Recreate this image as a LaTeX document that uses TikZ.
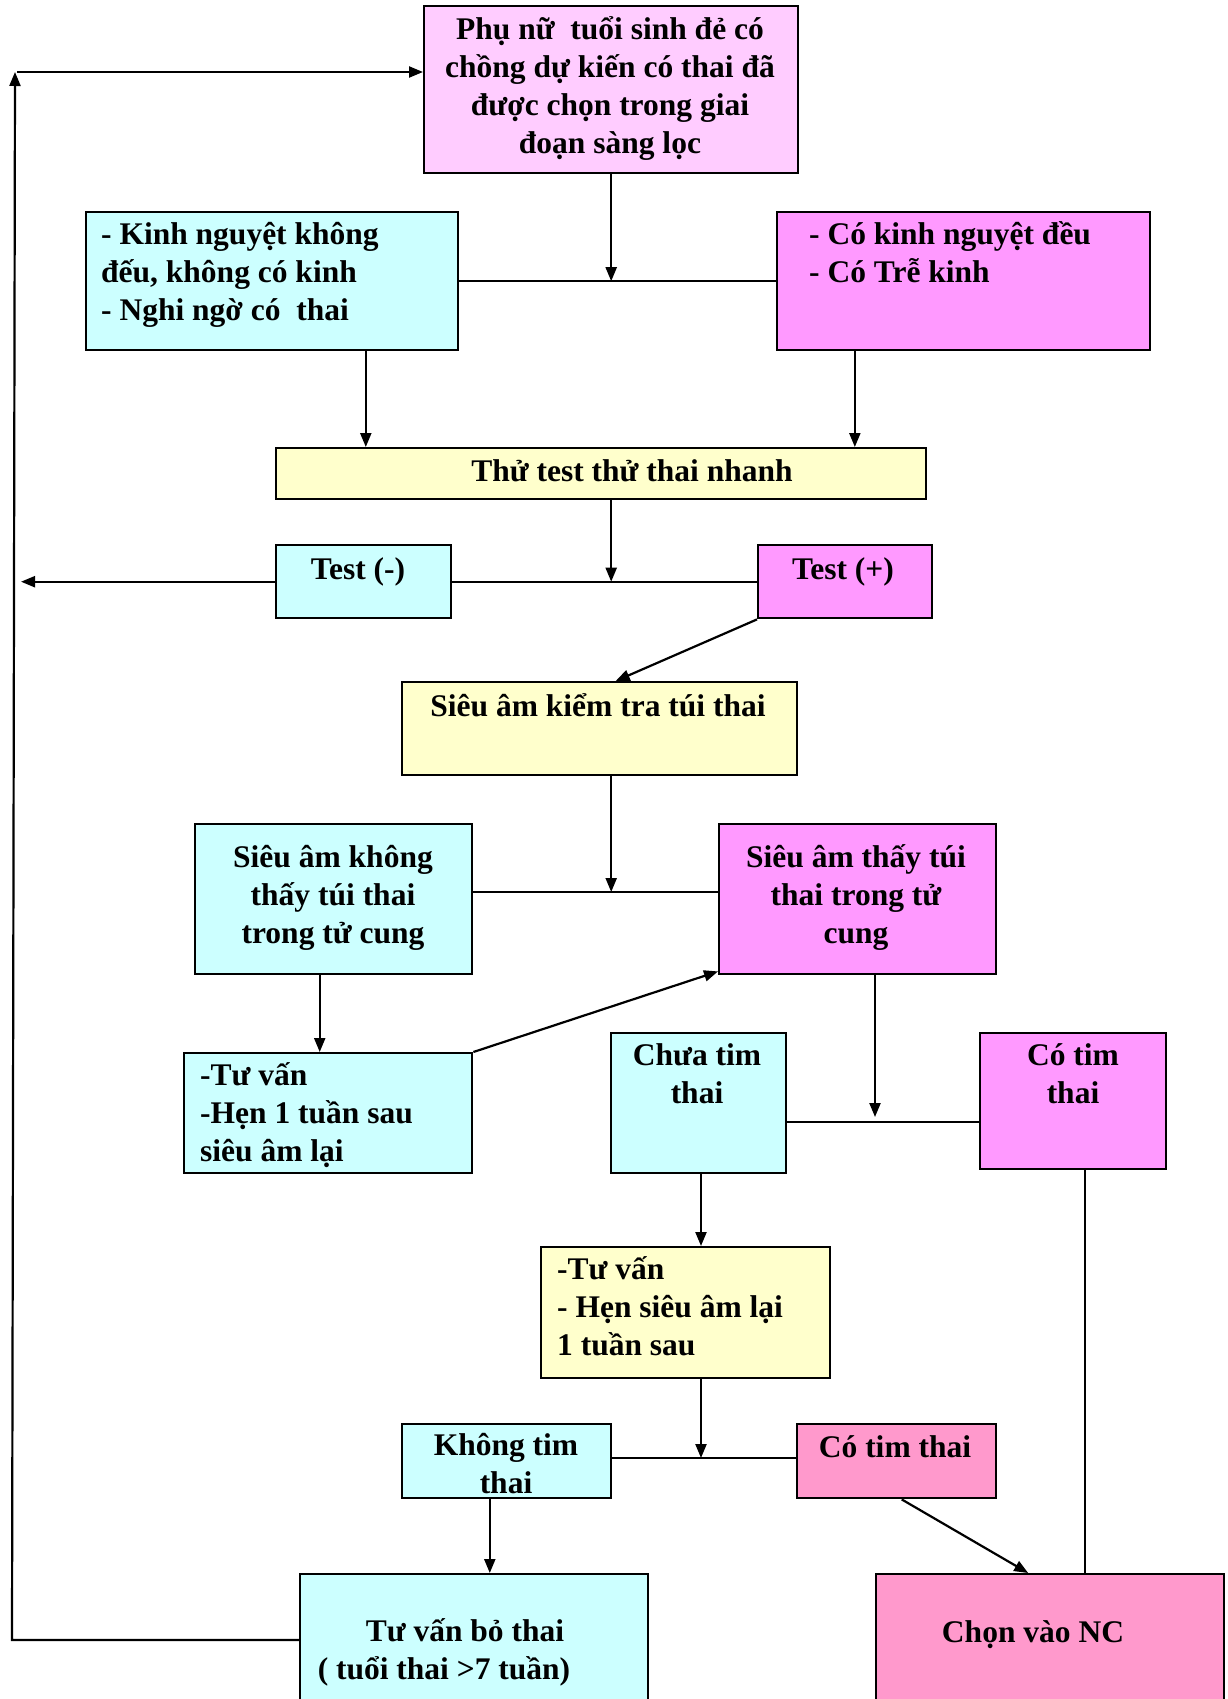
\documentclass[tikz,border=0pt]{standalone}
\usepackage{fontspec}
\setmainfont{Liberation Serif}
\usetikzlibrary{arrows.meta,calc}

\definecolor{hongnhat}{HTML}{FFCCFF}
\definecolor{xanhnhat}{HTML}{CCFFFF}
\definecolor{tim}{HTML}{FF99FF}
\definecolor{vang}{HTML}{FFFFCC}
\definecolor{hong}{HTML}{FF99CC}

\tikzset{
  box/.style={draw, line width=2.4pt, inner sep=0pt, anchor=north west},
  txt/.style={font=\bfseries\fontsize{31.5}{38}\selectfont, inner sep=0pt},
  line/.style={line width=2.2pt},
  arr/.style={line width=2.2pt, -{Triangle[length=14pt,width=11pt]}}
}

\begin{document}
\begin{tikzpicture}[x=1pt,y=-1pt]
  \useasboundingbox (0,0) rectangle (1228,1699);

  % boxes
  \node[box, fill=hongnhat, minimum width=374, minimum height=167] (phu) at (423,5) {};
  \node[box, fill=xanhnhat, minimum width=372, minimum height=138] (kinh) at (85,211) {};
  \node[box, fill=tim, minimum width=373, minimum height=138] (cokinh) at (776,211) {};
  \node[box, fill=vang, minimum width=650, minimum height=51] (nhanh) at (275,447) {};
  \node[box, fill=xanhnhat, minimum width=175, minimum height=73] (testam) at (275,544) {};
  \node[box, fill=tim, minimum width=174, minimum height=73] (testduong) at (757,544) {};
  \node[box, fill=vang, minimum width=395, minimum height=93] (sieuam) at (401,681) {};
  \node[box, fill=xanhnhat, minimum width=277, minimum height=150] (khongtui) at (194,823) {};
  \node[box, fill=tim, minimum width=277, minimum height=150] (thaytui) at (718,823) {};
  \node[box, fill=xanhnhat, minimum width=288, minimum height=120] (tuvanmot) at (183,1052) {};
  \node[box, fill=xanhnhat, minimum width=175, minimum height=140] (chuatim) at (610,1032) {};
  \node[box, fill=tim, minimum width=186, minimum height=136] (cotim) at (979,1032) {};
  \node[box, fill=vang, minimum width=289, minimum height=131] (tuvanhai) at (540,1246) {};
  \node[box, fill=xanhnhat, minimum width=209, minimum height=74] (khongtim) at (401,1423) {};
  \node[box, fill=hong, minimum width=199, minimum height=74] (cotimhai) at (796,1423) {};
  \node[box, fill=xanhnhat, minimum width=348, minimum height=130] (tuvanbo) at (299,1573) {};
  \node[box, fill=hong, minimum width=348, minimum height=130] (chonnc) at (875,1573) {};

  % texts (base = last line)
  \node[txt, align=center, anchor=base] (phuT) at (610,154)
    {Phụ nữ\ \ tuổi sinh đẻ có\\chồng dự kiến có thai đã\\được chọn trong giai\\đoạn sàng lọc};
  \node[txt, align=left, anchor=base west] (kinhT) at (101,320)
    {- Kinh nguyệt không\\đếu, không có kinh\\- Nghi ngờ có\ \ thai};
  \node[txt, align=left, anchor=base west] (cokinhT) at (809,282)
    {- Có kinh nguyệt đều\\- Có Trễ kinh};
  \node[txt, anchor=base] (nhanhT) at (632,481) {Thử test thử thai nhanh};
  \node[txt, anchor=base] (testamT) at (358,579) {Test (-)};
  \node[txt, anchor=base] (testduongT) at (843,579) {Test (+)};
  \node[txt, anchor=base] (sieuamT) at (598,716) {Siêu âm kiểm tra túi thai};
  \node[txt, align=center, anchor=base] (khongtuiT) at (333,943)
    {Siêu âm không\\thấy túi thai\\trong tử cung};
  \node[txt, align=center, anchor=base] (thaytuiT) at (856,943)
    {Siêu âm thấy túi\\thai trong tử\\cung};
  \node[txt, align=left, anchor=base west] (tuvanmotT) at (200,1161)
    {-Tư vấn\\-Hẹn 1 tuần sau\\siêu âm lại};
  \node[txt, align=center, anchor=base] (chuatimT) at (697,1103) {Chưa tim\\thai};
  \node[txt, align=center, anchor=base] (cotimT) at (1073,1103) {Có tim\\thai};
  \node[txt, align=left, anchor=base west] (tuvanhaiT) at (557,1355)
    {-Tư vấn\\- Hẹn siêu âm lại\\1 tuần sau};
  \node[txt, align=center, anchor=base] (khongtimT) at (506,1493) {Không tim\\thai};
  \node[txt, anchor=base] (cotimhaiT) at (895,1457) {Có tim thai};
  \node[txt, align=center, anchor=base] (tuvanboT) at (444,1679)
    {\hspace*{42pt}Tư vấn bỏ thai\\( tuổi thai >7 tuần)};
  \node[txt, anchor=base] (chonncT) at (1033,1642) {Chọn vào NC};

  % junctions
  \coordinate (j1) at (phu.south |- kinh.east);
  \coordinate (j2) at (phu.south |- testam.east);
  \coordinate (j3) at (phu.south |- 0,892);
  \coordinate (j4) at (875,1122);
  \coordinate (j5) at (701,1458);
  \coordinate (loopTop) at (15,72);
  \coordinate (loopBot) at (12,1640);

  % connectors
  \draw[arr] (phu.south) -- (j1);
  \draw[line] (kinh.east) -- (cokinh.west);
  \draw[arr] ($(kinh.south west)!0.75!(kinh.south east)$) coordinate (k1) -- (k1 |- nhanh.north);
  \draw[arr] ($(cokinh.south west)!0.21!(cokinh.south east)$) coordinate (k2) -- (k2 |- nhanh.north);
  \draw[arr] (nhanh.south -| j2) -- (j2);
  \draw[line] (testam.east) -- (testduong.west);
  \draw[arr] (testam.west) -- ([xshift=6pt]testam.west -| loopTop);
  \draw[arr] (testduong.south west) -- ([xshift=16pt]sieuam.north);
  \draw[arr] (sieuam.south -| j3) -- (j3);
  \draw[line] (khongtui.east |- j3) -- (thaytui.west |- j3);
  \draw[arr] ($(khongtui.south west)!0.45!(khongtui.south east)$) coordinate (k3) -- (k3 |- tuvanmot.north);
  \draw[arr] (tuvanmot.north east) -- ([yshift=4pt]thaytui.south west);
  \draw[arr] (thaytui.south -| j4) -- ([yshift=5pt]j4);
  \draw[line] (chuatim.east |- j4) -- (cotim.west |- j4);
  \draw[arr] (chuatim.south -| j5) -- (tuvanhai.north -| j5);
  \draw[arr] (tuvanhai.south -| j5) -- (j5);
  \draw[line] (khongtim.east |- j5) -- (cotimhai.west |- j5);
  \draw[arr] ($(khongtim.south west)!0.42!(khongtim.south east)$) coordinate (k4) -- (k4 |- tuvanbo.north);
  \draw[arr] ([xshift=5pt]cotimhai.south) -- ([xshift=-22pt]chonnc.north);
  \draw[line] ([xshift=12pt]cotim.south) -- ([xshift=12pt]cotim.south |- chonnc.north);
  \draw[arr] (tuvanbo.west |- loopBot) -- (loopBot) -- (loopTop);
  \draw[arr] ([xshift=2pt]loopTop) -- (loopTop -| phu.west);
\end{tikzpicture}
\end{document}
